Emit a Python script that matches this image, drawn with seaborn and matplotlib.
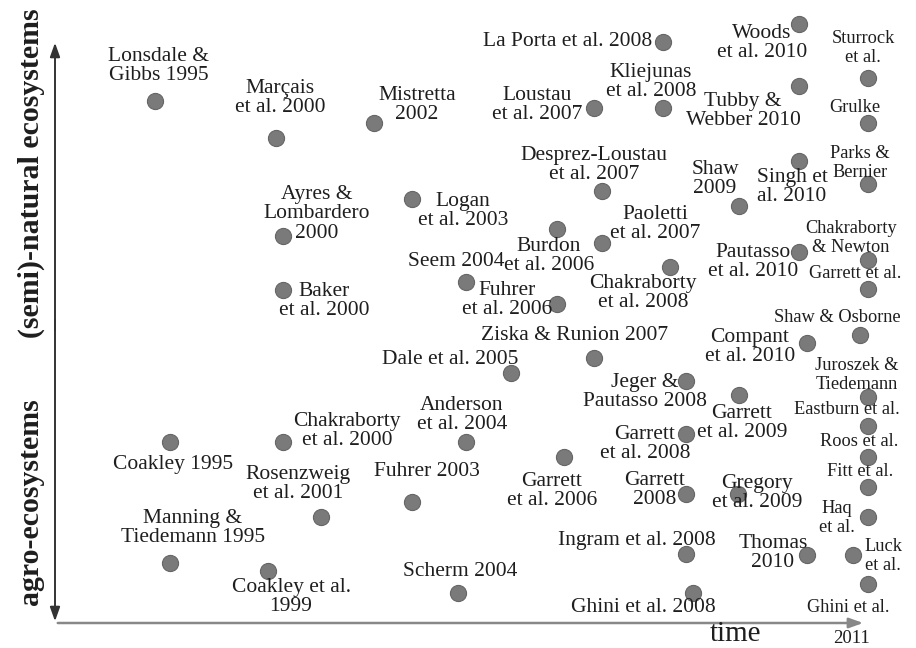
import matplotlib
matplotlib.use("Agg")
import matplotlib.pyplot as plt
import seaborn as sns
import pandas as pd

# ---------------- data ----------------
studies = [
    "Lonsdale &\nGibbs 1995", "Marçais\net al. 2000", "Mistretta\n2002", "Logan\net al. 2003",
    "Ayres &\nLombardero\n2000", "Baker\net al. 2000", "Seem 2004", "Fuhrer\net al. 2006",
    "Burdon\net al. 2006", "Desprez-Loustau\net al. 2007", "Paoletti\net al. 2007",
    "Chakraborty\net al. 2008", "Loustau\net al. 2007", "Kliejunas\net al. 2008",
    "La Porta et al. 2008", "Woods\net al. 2010", "Tubby &\nWebber 2010", "Shaw\n2009",
    "Singh et\nal. 2010", "Pautasso\net al. 2010", "Compant\net al. 2010",
    "Jeger &\nPautasso 2008", "Garrett\net al. 2009", "Garrett\net al. 2008", "Garrett\n2008",
    "Gregory\net al. 2009", "Garrett\net al. 2006", "Anderson\net al. 2004",
    "Ingram et al. 2008", "Ghini et al. 2008", "Thomas\n2010", "Scherm 2004", "Fuhrer 2003",
    "Rosenzweig\net al. 2001", "Chakraborty\net al. 2000", "Coakley 1995",
    "Manning &\nTiedemann 1995", "Coakley et al.\n1999", "Dale et al. 2005",
    "Ziska & Runion 2007",
    # 2011 column
    "Sturrock\net al.", "Grulke", "Parks &\nBernier", "Chakraborty\n& Newton", "Garrett et al.",
    "Shaw & Osborne", "Juroszek &\nTiedemann", "Eastburn et al.", "Roos et al.", "Fitt et al.",
    "Haq\net al.", "Luck\net al.", "Ghini et al.",
]
# position along time axis (left -> right)
time_pos = [155, 276, 374, 412, 283, 283, 466, 557, 557, 602, 602, 670, 594, 663, 663, 799,
            799, 739, 799, 799, 807, 686, 739, 686, 686, 738, 564, 466, 686, 693, 807, 458,
            412, 321, 283, 170, 170, 268, 511, 594,
            868, 868, 868, 868, 868, 860, 868, 868, 868, 868, 868, 853, 868]
# position along ecosystem axis (top = semi-natural, bottom = agro)
eco_pos = [101, 138, 123, 199, 236, 290, 282, 304, 229, 191, 243, 267, 108, 108, 42, 24,
           86, 206, 161, 252, 343, 381, 395, 434, 494, 494, 457, 442, 554, 593, 555, 593,
           502, 517, 442, 442, 563, 571, 373, 358,
           78, 123, 184, 260, 289, 335, 397, 426, 457, 487, 517, 555, 584]

# ---------------- label layout (offsets in pixels) ----------------
lab_dx = [4, 4, 43, 51, 34, 41, -10, -50, -8, -8, 53, -27, -57, -12, -95, -37, -56, -24, -7,
          -46, -57, -41, 3, -41, -31, 19, -12, -4, -49, -50, -34, 2, 15, -23, 64, 3, 23, 23,
          -61, -19,
          -5, -13, -8, -17, -13, -23, -11, -21, -9, -8, -31, 30, -20]
lab_dy = [-35, -40, -18, 12, -22, 11, -21, -4, 27, -26, -19, 26, -3, -26, 0, 19, 25, -27, 26,
          10, 4, 11, 28, 10, -4, -1, 34, -27, -14, 15, -2, -21, -30, -33, -11, 23, -35, 26,
          -14, -23,
          -30, -16, -21, -22, -15, -17, -22, -16, -16, -15, 1, 1, 23]
n_main = 40

df = pd.DataFrame({"study": studies, "time": time_pos, "eco": eco_pos})

# ---------------- figure ----------------
sns.set_theme(style="white")
plt.rcParams["font.family"] = ["Liberation Serif", "DejaVu Serif"]

fig = plt.figure(figsize=(9.16, 6.48), dpi=100)
ax = fig.add_axes([0, 0, 1, 1])
ax.set_xlim(0, 916)
ax.set_ylim(648, 0)
ax.axis("off")

sns.scatterplot(data=df, x="time", y="eco", ax=ax, s=135, color="#7a7a7a",
                edgecolor="#666666", linewidth=0.8, legend=False, zorder=3)

txt_color = "#1e1e1e"
for i, row in df.iterrows():
    main = i < n_main
    ax.annotate(row["study"], xy=(row["time"], row["eco"]),
                xytext=(lab_dx[i], -lab_dy[i]), textcoords="offset pixels",
                ha="center", va="center", fontsize=15.5 if main else 13.2,
                color=txt_color, linespacing=1.06 if main else 1.12, zorder=4)

# axes arrows
head = "-|>,head_length=0.7,head_width=0.25"
ax.annotate("", xy=(55, 40), xytext=(55, 330),
            arrowprops=dict(arrowstyle=head, color="#333333", lw=1.4))
ax.annotate("", xy=(55, 624), xytext=(55, 320),
            arrowprops=dict(arrowstyle=head, color="#333333", lw=1.4))
ax.plot([55, 55], [330, 320], color="#333333", lw=1.4)
ax.annotate("", xy=(866, 623), xytext=(55, 623),
            arrowprops=dict(arrowstyle=head, color="#888888", lw=1.8))

# axis texts
ax.text(31, 173, "(semi)-natural ecosystems", rotation=90, ha="center", va="center",
        fontsize=21.5, fontweight="bold", color=txt_color)
ax.text(31, 502, "agro-ecosystems", rotation=90, ha="center", va="center",
        fontsize=21.5, fontweight="bold", color=txt_color)
ax.text(735, 641, "time", ha="center", va="baseline", fontsize=21, color=txt_color)
ax.text(851, 643, "2011", ha="center", va="baseline", fontsize=13.5, color=txt_color)

fig.savefig("out.png", dpi=100)
